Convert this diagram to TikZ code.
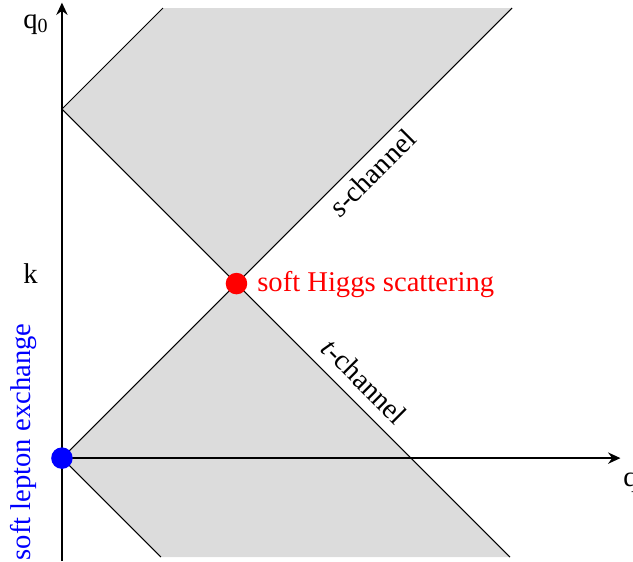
\documentclass[tikz,border=0pt]{standalone}
\usepackage{fontspec}
\setmainfont{Liberation Serif}
\usetikzlibrary{arrows.meta}
\definecolor{ConeGray}{HTML}{DCDCDC}
\definecolor{HiggsRed}{HTML}{FF0000}
\definecolor{LeptonBlue}{HTML}{0000FF}

\begin{document}
\begin{tikzpicture}[x=3cm, y=3cm, font=\fontsize{14}{16}\selectfont,
    coneline/.style={black, line width=0.5pt},
    axisline/.style={-{Stealth[length=6pt, width=5.5pt]}, line width=1.2pt},
    dot/.style={circle, inner sep=0pt, minimum size=0.37cm}]
          \useasboundingbox (-0.355,-0.590) rectangle (3.272,2.625);
          % shaded light-cone regions
          \fill[ConeGray] (0,2) -- (1,1) -- (2.579,2.579) -- (0.579,2.579) -- cycle;
          \fill[ConeGray] (0,0) -- (1,1) -- (2.567,-0.567) -- (0.567,-0.567) -- cycle;
          \draw[coneline] (0.579,2.579) -- (0,2) -- (2.567,-0.567);
          \draw[coneline] (2.579,2.579) -- (0,0) -- (0.567,-0.567);
          % axes
          \draw[axisline] (0,0) -- (3.2,0);
          \draw[axisline] (0,-0.590) -- (0,2.61);
          \node[anchor=base west, inner sep=0pt] (qzero) at (-0.224,2.464) {q\textsubscript{0}};
          \node[anchor=base west, inner sep=0pt] (qlabel) at (3.215,-0.160) {q};
          \node[anchor=base west, inner sep=0pt] (klabel) at (-0.224,1.003) {k};
          % points
          \node[dot, fill=HiggsRed] (higgsdot) at (1,1) {};
          \node[dot, fill=LeptonBlue] (leptondot) at (0,0) {};
          \node[anchor=base west, inner sep=0pt, text=HiggsRed] (higgs) at (1.117,0.957) {soft Higgs scattering};
          \node[anchor=base east, inner sep=0pt, rotate=90, text=LeptonBlue] (lepton) at (-0.183,0.774) {soft lepton exchange};
          \node[rotate=45] (schan) at (1.777,1.633) {\textit{s}-channel};
          \node[rotate=-45] (tchan) at (1.731,0.441) {\textit{t}-channel};
        \end{tikzpicture}
\end{document}
